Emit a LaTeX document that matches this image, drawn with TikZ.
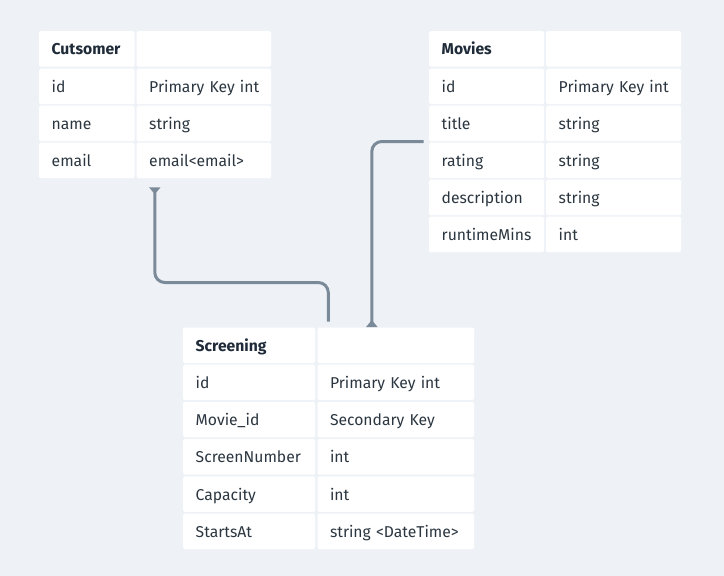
\documentclass[tikz,border=0pt]{standalone}
\usepackage{fontspec}
\setmainfont{Fira Sans}
\usetikzlibrary{arrows.meta}
\definecolor{bgc}{HTML}{EEF2F6}
\definecolor{txt}{HTML}{2B3640}
\definecolor{hdr}{HTML}{1F2B38}
\definecolor{linec}{HTML}{7B8A99}
\tikzset{
  cell/.style={fill=white, rounded corners=1.5pt, anchor=north west, inner xsep=0pt, inner ysep=0pt,
    minimum height=35.5pt, align=left, text=txt, text height=12.5pt, text depth=0.5pt,
    execute at begin node={\hspace*{12.5pt}},
    font=\fontsize{15.7}{19}\selectfont},
  hcell/.style={cell, text=hdr, font=\fontsize{15.7}{19}\selectfont\bfseries},
  conn/.style={draw=linec, line width=3pt, rounded corners=10pt},
  onetip/.style={-{Triangle[reversed, width=11pt, length=7pt]}}
}
\begin{document}
\begin{tikzpicture}[x=1pt,y=-1pt]
\useasboundingbox[fill=bgc] (0,0) rectangle (724,576);
% Customer table
\node[hcell, text width=95.5pt] (cu-h1) at (39,31) {Cutsomer};
\node[cell, text width=134.5pt] (cu-h2) at (136.5,31) {};
\node[cell, text width=95.5pt] (cu-a1) at (39,68.5) {id};
\node[cell, text width=134.5pt] (cu-a2) at (136.5,68.5) {Primary Key int};
\node[cell, text width=95.5pt] (cu-b1) at (39,105.5) {name};
\node[cell, text width=134.5pt] (cu-b2) at (136.5,105.5) {string};
\node[cell, text width=95.5pt] (cu-c1) at (39,142.5) {email};
\node[cell, text width=134.5pt] (cu-c2) at (136.5,142.5) {email<email>};
% Movies table
\node[hcell, text width=115pt] (mv-h1) at (429,31) {Movies};
\node[cell, text width=135pt] (mv-h2) at (546,31) {};
\node[cell, text width=115pt] (mv-a1) at (429,68.5) {id};
\node[cell, text width=135pt] (mv-a2) at (546,68.5) {Primary Key int};
\node[cell, text width=115pt] (mv-b1) at (429,105.5) {title};
\node[cell, text width=135pt] (mv-b2) at (546,105.5) {string};
\node[cell, text width=115pt] (mv-c1) at (429,142.5) {rating};
\node[cell, text width=135pt] (mv-c2) at (546,142.5) {string};
\node[cell, text width=115pt] (mv-d1) at (429,179.5) {description};
\node[cell, text width=135pt] (mv-d2) at (546,179.5) {string};
\node[cell, text width=115pt] (mv-e1) at (429,216.5) {runtimeMins};
\node[cell, text width=135pt] (mv-e2) at (546,216.5) {int};
% Screening table
\node[hcell, text width=132pt] (sc-h1) at (183,327.3) {Screening};
\node[cell, text width=156.5pt] (sc-h2) at (317.3,327.3) {};
\node[cell, text width=132pt] (sc-a1) at (183,364.5) {id};
\node[cell, text width=156.5pt] (sc-a2) at (317.3,364.5) {Primary Key int};
\node[cell, text width=132pt] (sc-b1) at (183,401.7) {Movie\_id};
\node[cell, text width=156.5pt] (sc-b2) at (317.3,401.7) {Secondary Key};
\node[cell, text width=132pt] (sc-c1) at (183,438.9) {ScreenNumber};
\node[cell, text width=156.5pt] (sc-c2) at (317.3,438.9) {int};
\node[cell, text width=132pt] (sc-d1) at (183,476.1) {Capacity};
\node[cell, text width=156.5pt] (sc-d2) at (317.3,476.1) {int};
\node[cell, text width=132pt] (sc-e1) at (183,513.3) {StartsAt};
\node[cell, text width=156.5pt] (sc-e2) at (317.3,513.3) {string <DateTime>};
% connector anchors
\coordinate (scA) at (328.3,321.5);
\coordinate (cuA) at (154.8,187.3);
\coordinate (mvA) at (423.5,141.5);
\coordinate (scB) at (371.8,327);
% connectors
\draw[conn, onetip] (scA) -- (scA |- 0,282.5) -- (cuA |- 0,282.5) -- (cuA);
\draw[conn, onetip] (mvA) -- (scB |- mvA) -- (scB);
\end{tikzpicture}
\end{document}
